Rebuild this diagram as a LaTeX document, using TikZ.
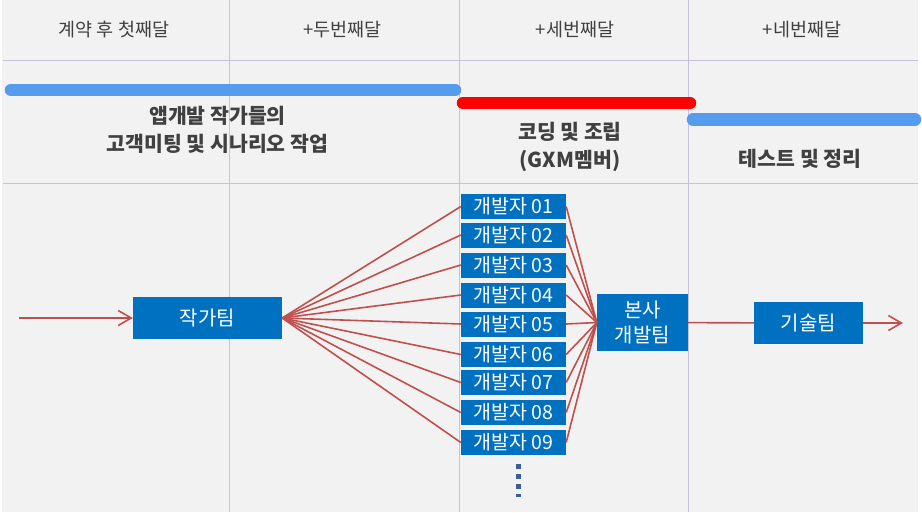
\documentclass[tikz,border=0pt]{standalone}
\usepackage{fontspec}
\setmainfont{Noto Sans CJK KR}
\usetikzlibrary{arrows.meta}
\definecolor{bg}{HTML}{F2F2F2}
\definecolor{gridc}{HTML}{C9C1DC}
\definecolor{barblue}{HTML}{559BEE}
\definecolor{boxblue}{HTML}{0070C0}
\definecolor{arrc}{HTML}{C0504D}
\definecolor{txt}{HTML}{404040}
\definecolor{dotc}{HTML}{3A5F94}
\begin{document}
\begin{tikzpicture}[x=1pt,y=-1pt,
 gridline/.style={draw=gridc, line width=1.4pt},
 bar/.style={line width=12.5pt, line cap=round},
 hdr/.style={text=txt, inner sep=0pt, font=\fontsize{18.5}{22}\selectfont},
 phase/.style={text=txt, inner sep=0pt, font=\bfseries\fontsize{20.5}{27.5}\selectfont, align=center},
 bx/.style={fill=boxblue, text=white, inner sep=0pt, font=\fontsize{20}{25}\selectfont, align=center},
 dev/.style={bx, minimum width=105pt, minimum height=25pt, font=\fontsize{19.5}{22}\selectfont},
 link/.style={draw=arrc, line width=1.6pt},
 tip/.style={-{Straight Barb[length=13pt,width=15pt,line width=1.6pt]}}
]
\useasboundingbox (0,0) rectangle (922,512);
\fill[white] (0,0) rectangle (922,512);
\fill[bg] (2,0) rectangle (918,512);
% grid
\draw[gridline] (229.5,0) -- (229.5,512);
\draw[gridline] (459.5,0) -- (459.5,512);
\draw[gridline] (688.5,0) -- (688.5,512);
\draw[gridline] (3,60.5) -- (918,60.5);
\draw[gridline] (3,183.5) -- (918,183.5);
% headers
\node[hdr] (h1) at (114,30) {계약 후 첫째달};
\node[hdr] (h2) at (342.5,30) {+두번째달};
\node[hdr] (h3) at (575,30) {+세번째달};
\node[hdr] (h4) at (802,30) {+네번째달};
% bars
\draw[bar, barblue] (11,90) -- (455,90);
\draw[bar, red] (463,103) -- (690,103);
\draw[bar, barblue] (693,119.5) -- (915,119.5);
% phases
\node[phase] (p1) at (217.5,130) {앱개발 작가들의\\고객미팅 및 시나리오 작업};
\node[phase] (p2) at (570,147) {코딩 및 조립\\(GXM멤버)};
\node[phase] (p3) at (800,159) {테스트 및 정리};
% boxes
\node[bx, minimum width=149pt, minimum height=42pt] (writer) at (207.5,318) {작가팀};
\node[dev] (d1) at (513.5,206.5) {개발자 01};
\node[dev] (d2) at (513.5,235) {개발자 02};
\node[dev] (d3) at (513.5,265) {개발자 03};
\node[dev] (d4) at (513.5,295) {개발자 04};
\node[dev] (d5) at (513.5,324) {개발자 05};
\node[dev] (d6) at (513.5,354.5) {개발자 06};
\node[dev] (d7) at (513.5,382.5) {개발자 07};
\node[dev] (d8) at (513.5,412.5) {개발자 08};
\node[dev] (d9) at (513.5,442.5) {개발자 09};
\node[bx, minimum width=91pt, minimum height=57pt] (hq) at (642.5,322.5) {본사\\개발팀};
\node[bx, minimum width=109pt, minimum height=42pt] (tech) at (808.5,323) {기술팀};
\coordinate (in) at (19,318);
\coordinate (out) at (903,323);
% connectors
\draw[link, tip] (in) -- (writer);
\foreach \d in {d1,d2,d3,d4,d5,d6,d7,d8,d9} {
  \draw[link] (writer.east) -- (\d.west);
  \draw[link] (\d.east) -- (hq.west);
}
\draw[link] (hq) -- (tech);
\draw[link, tip] (tech) -- (out);
% more dots
\coordinate (dtop) at (518,464);
\coordinate (dbot) at (518,497);
\draw[dotc, line width=5pt, dash pattern=on 5pt off 5pt] (dtop) -- (dbot);
\end{tikzpicture}
\end{document}
